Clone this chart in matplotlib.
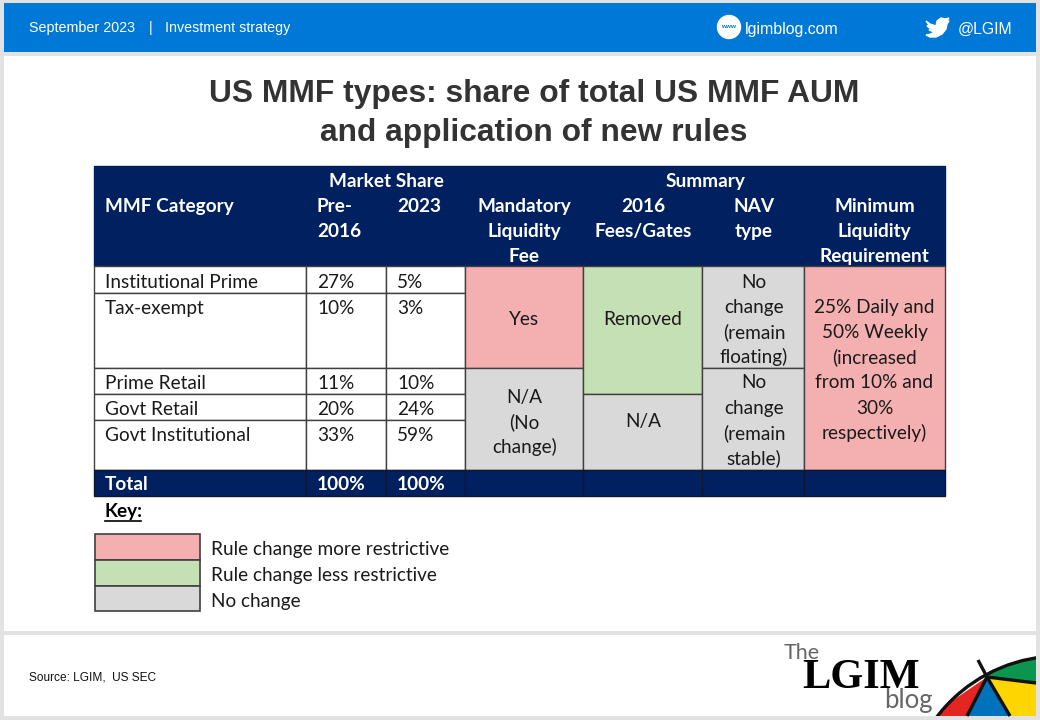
import matplotlib
matplotlib.use('Agg')
import matplotlib.pyplot as plt
from matplotlib.patches import Rectangle, Circle, Polygon

# table contents
categories = ['Institutional Prime', 'Tax-exempt', 'Prime Retail', 'Govt Retail', 'Govt Institutional']
pre_2016 = ['27%', '10%', '11%', '20%', '33%']
share_2023 = ['5%', '3%', '10%', '24%', '59%']
totals = ['Total', '100%', '100%']
liquidity_fee = ['Yes', 'N/A\n(No\nchange)']
fees_gates = ['Removed', 'N/A']
nav_type = ['No\nchange\n(remain\nfloating)', 'No\nchange\n(remain\nstable)']
min_liquidity = '25% Daily and\n50% Weekly\n(increased\nfrom 10% and\n30%\nrespectively)'
key_labels = ['Rule change more restrictive', 'Rule change less restrictive', 'No change']

NAVY = '#002060'
PINK = '#f4b0b0'
GREEN = '#c5e0b4'
GREY = '#d9d9d9'
BLUE = '#0078d7'
EDGE = '#404040'
TXT = '#1a1a1a'
BODY = 'Lato'
ARIAL = 'Liberation Sans'
FS = 13.7
LINE = 25.2

# column edges and row edges, in pixels
cols = [94, 306, 386, 465, 583, 702, 803.5, 944.5]
rows = [266, 292.5, 368, 394, 419.5, 470, 496]
row_base = [288, 314, 389, 415, 441]

fig = plt.figure(figsize=(10.4, 7.2), dpi=100, facecolor='#e2e2e2')
ax = fig.add_axes([0, 0, 1, 1])
ax.set_xlim(0, 1040)
ax.set_ylim(720, 0)
ax.axis('off')


def box(x0, y0, x1, y1, color, edge='none', lw=1.0, z=1):
    ax.add_patch(Rectangle((x0, y0), x1 - x0, y1 - y0, facecolor=color, edgecolor=edge, linewidth=lw, zorder=z))


def label(x, y, s, ha='left', color=TXT, size=FS, weight='normal', family=BODY):
    # y is the baseline of the first line, further lines go LINE px below
    for i, part in enumerate(s.split('\n')):
        ax.text(x, y + i * LINE, part, ha=ha, va='baseline', color=color, fontsize=size,
                fontweight=weight, family=family, zorder=5)


# page panels
box(4, 3, 1036, 52, BLUE)
box(4, 56, 1036, 631, 'white')
box(4, 635, 1036, 716, 'white')

# top bar
label(29, 32, 'September 2023', color='white', size=10.3, family=ARIAL)
label(149, 32, '|', color='white', size=10.3, family=ARIAL)
label(165, 32, 'Investment strategy', color='white', size=10.3, family=ARIAL)
ax.add_patch(Circle((729, 27), 11.5, color='white', zorder=3))
ax.text(729, 27, 'www', ha='center', va='center', fontsize=4.6, fontweight='bold', color=BLUE, family=ARIAL, zorder=5)
label(745, 34, 'lgimblog.com', color='white', size=11.4, family=ARIAL)
label(958, 34, '@LGIM', color='white', size=11.4, family=ARIAL)
bird = [(926, 21), (930, 24), (936, 26), (937, 21), (941, 18), (945, 19), (949, 18), (947, 21), (949, 21),
        (947, 24), (946, 29), (942, 34), (936, 37), (930, 37), (926, 35), (931, 34), (934, 32), (929, 30),
        (931, 29), (927, 26), (929, 25)]
ax.add_patch(Polygon(bird, closed=True, color='white', zorder=3))

# title
label(534, 102, 'US MMF types: share of total US MMF AUM', ha='center', color='#333333', size=22.9,
      weight='bold', family=ARIAL)
label(534, 141, 'and application of new rules', ha='center', color='#333333', size=22.9,
      weight='bold', family=ARIAL)

# header block
box(cols[0], 166, cols[-1], rows[0], NAVY, edge=NAVY)
label(386, 187, 'Market Share', ha='center', color='white', weight='bold')
label(705, 187, 'Summary', ha='center', color='white', weight='bold')
label(105, 212, 'MMF Category', color='white', weight='bold')
label(317, 212, 'Pre-\n2016', color='white', weight='bold')
label(397, 212, '2023', color='white', weight='bold')
label(524.5, 212, 'Mandatory\nLiquidity\nFee', ha='center', color='white', weight='bold')
label(643, 212, '2016\nFees/Gates', ha='center', color='white', weight='bold')
label(754, 212, 'NAV\ntype', ha='center', color='white', weight='bold')
label(874.5, 212, 'Minimum\nLiquidity\nRequirement', ha='center', color='white', weight='bold')

# left part of the body
for r in range(len(categories)):
    for c in range(3):
        box(cols[c], rows[r], cols[c + 1], rows[r + 1] if r < 4 else rows[5], 'white', edge=EDGE, lw=1.0, z=2)
    label(105, row_base[r], categories[r])
    label(317, row_base[r], pre_2016[r])
    label(397, row_base[r], share_2023[r])

# merged rule cells
box(cols[3], rows[0], cols[4], rows[2], PINK, edge=EDGE, z=2)
box(cols[3], rows[2], cols[4], rows[5], GREY, edge=EDGE, z=2)
box(cols[4], rows[0], cols[5], rows[3], GREEN, edge=EDGE, z=2)
box(cols[4], rows[3], cols[5], rows[5], GREY, edge=EDGE, z=2)
box(cols[5], rows[0], cols[6], rows[2], GREY, edge=EDGE, z=2)
box(cols[5], rows[2], cols[6], rows[5], GREY, edge=EDGE, z=2)
box(cols[6], rows[0], cols[7], rows[5], PINK, edge=EDGE, z=2)

label(524.5, 325, liquidity_fee[0], ha='center')
label(524.5, 402.5, liquidity_fee[1], ha='center')
label(643, 325, fees_gates[0], ha='center')
label(643, 427.5, fees_gates[1], ha='center')
label(754, 287.5, nav_type[0], ha='center')
label(754, 388.5, nav_type[1], ha='center')
label(874.5, 312.7, min_liquidity, ha='center')

# total row
for c in range(len(cols) - 1):
    box(cols[c], rows[5], cols[c + 1], rows[6], NAVY, edge='#101830', z=2)
label(105, 490, totals[0], color='white', weight='bold')
label(317, 490, totals[1], color='white', weight='bold')
label(397, 490, totals[2], color='white', weight='bold')

# key
label(105, 517, 'Key:', weight='bold', color='black')
ax.plot([105, 141], [520.5, 520.5], color='black', lw=1.2, zorder=5)
key_colors = [PINK, GREEN, GREY]
key_edges = [533.5, 560, 586, 611]
key_base = [555, 581, 607]
for i, name in enumerate(key_labels):
    box(94.5, key_edges[i], 199.5, key_edges[i + 1], key_colors[i], edge=EDGE, lw=1.2, z=2)
    label(211, key_base[i], name)

# footer
label(29, 681, 'Source: LGIM,  US SEC', color='#111111', size=8.6, family=ARIAL)

# logo
label(784, 659, 'The', color='#666666', size=15.5, family='Lato')
label(802, 688, 'LGIM', color='black', size=30.5, weight='bold', family='Liberation Serif')
label(884, 708, 'blog', color='#666666', size=18.5, family='Lato')

canopy = Circle((1060, 811), 155, transform=ax.transData)
footer_clip = Rectangle((4, 635), 1032, 81, transform=ax.transData)
apex = (987, 677)
sectors = [([apex, (930, 716), (967, 716)], '#e52521'),
           ([apex, (967, 716), (1010, 716)], '#0072bc'),
           ([apex, (1010, 716), (1036, 716), (1036, 683)], '#ffd500'),
           ([apex, (1036, 683), (1036, 650), (985, 650)], '#0b9650')]
for pts, col in sectors:
    p = Polygon(pts, closed=True, facecolor=col, edgecolor='none', zorder=3)
    ax.add_patch(p)
    p.set_clip_path(canopy)
rim = Circle((1060, 811), 155, fill=False, edgecolor='#111111', linewidth=2.4, zorder=4)
ax.add_patch(rim)
rim.set_clip_path(footer_clip)
for end in [(978, 660), (967, 716), (1010, 716), (1036, 683)]:
    ax.plot([apex[0], end[0]], [apex[1], end[1]], color='#111111', lw=2.4, zorder=4, solid_capstyle='butt')

fig.savefig('out.png', dpi=100, facecolor=fig.get_facecolor())
